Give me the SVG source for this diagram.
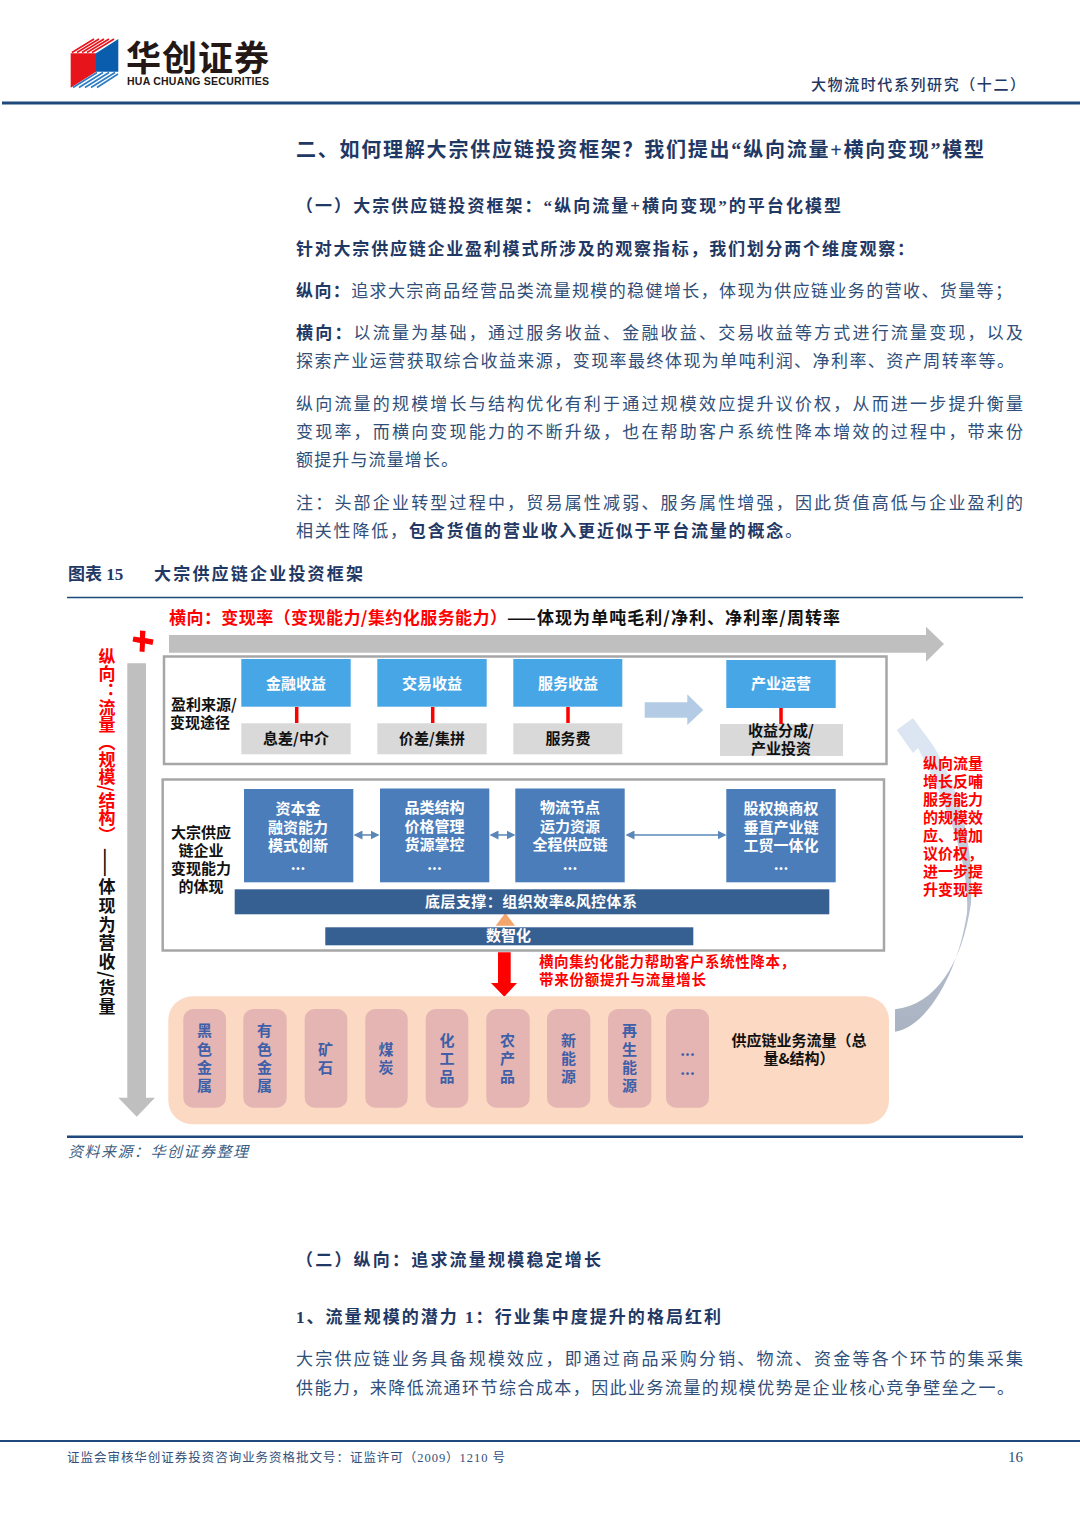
<svg xmlns="http://www.w3.org/2000/svg" width="1080" height="1527" viewBox="0 0 1080 1527">
<style>
text{font-family:"Liberation Serif","Noto Sans CJK SC",serif;fill:#2f4f7a}
.b{font-size:17px}
.h{font-weight:700;fill:#1f3864}
.s{font-family:"Noto Sans CJK SC","Liberation Sans",sans-serif;font-weight:700;font-size:15px;text-anchor:middle}
.w{fill:#fff}
.r{fill:#f00}
.k{fill:#111}
.p{fill:#3f5fa8;font-size:15px}
.lb{fill:#47a6e6}
.gr{fill:#d9d9d9}
.db{fill:#4b7dba}
.bar{fill:#376092}
.pill{fill:#e4b5b2}
.frame{fill:#fff;stroke:#a6a6a6;stroke-width:2.5}
.rl{stroke:#f00;stroke-width:3.5;fill:none}
.da{stroke:#5b87b8;stroke-width:1.5;fill:none;marker-start:url(#as);marker-end:url(#ae)}
.v{writing-mode:vertical-rl;font-family:"Noto Sans CJK SC","Liberation Sans",sans-serif;font-weight:700;font-size:17px}
.rule{stroke:#1f497d;fill:none}
</style>
<defs>
<marker id="ae" markerWidth="6" markerHeight="6" refX="5" refY="3" orient="auto"><path d="M0 0L6 3L0 6Z" fill="#5b87b8"/></marker>
<marker id="as" markerWidth="6" markerHeight="6" refX="1" refY="3" orient="auto"><path d="M6 0L0 3L6 6Z" fill="#5b87b8"/></marker>
<linearGradient id="cv" x1="0" y1="1" x2="0" y2="0"><stop offset="0" stop-color="#aab3c2"/><stop offset="0.55" stop-color="#bcc7d6"/><stop offset="0.8" stop-color="#dce6f2"/><stop offset="1" stop-color="#dce6f2"/></linearGradient>
</defs>
<rect width="1080" height="1527" fill="#fff"/>

<g id="header">
<polygon points="70.7,53.3 96,53.3 96,71.7 70.7,87.7" fill="#e8141c"/>
<polygon points="96,53.3 118.3,39 118.3,71.7 96,71.7" fill="#0a5cad"/>
<g stroke="#e8141c" stroke-width="1.6" fill="none">
<path d="M72 52.5L94 39M77 52.5L99 39M82 52.5L104 39M87 52.5L109 39M92 52.5L114 39"/>
</g>
<g stroke="#2a7cc4" stroke-width="1.6" fill="none">
<path d="M73 87.5L97 72.5M79 87.5L103 72.500M85 87.5L109 72.5M91 87.5L115 72.5M97 87.5L118 74"/>
</g>
<text x="126" y="71" font-size="35" font-weight="700" textLength="143" style="font-family:'Noto Sans CJK SC',sans-serif;fill:#231815">华创证券</text>
<text x="127" y="85" font-size="10.5" font-weight="700" textLength="142" style="font-family:'Liberation Sans',sans-serif;fill:#231815">HUA CHUANG SECURITIES</text>
<text x="811" y="90" font-size="15" textLength="214" style="font-weight:500;fill:#1f3864">大物流时代系列研究&#xFF08;十二&#xFF09;</text>
<path class="rule" d="M2 103H1080" stroke-width="3"/>
</g>

<g id="body-text">
<text x="296" y="157" font-size="20" class="h" textLength="688">二、如何理解大宗供应链投资框架&#xFF1F;我们提出“纵向流量+横向变现”模型</text>
<text x="296" y="212" class="b h" textLength="545">&#xFF08;一&#xFF09;大宗供应链投资框架&#xFF1A;“纵向流量+横向变现”的平台化模型</text>
<text x="296" y="255" class="b h" textLength="618">针对大宗供应链企业盈利模式所涉及的观察指标&#xFF0C;我们划分两个维度观察&#xFF1A;</text>
<text x="296" y="297" class="b" textLength="716"><tspan class="h">纵向&#xFF1A;</tspan>追求大宗商品经营品类流量规模的稳健增长&#xFF0C;体现为供应链业务的营收、货量等&#xFF1B;</text>
<text x="296" y="339" class="b" textLength="727"><tspan class="h">横向&#xFF1A;</tspan>以流量为基础&#xFF0C;通过服务收益、金融收益、交易收益等方式进行流量变现&#xFF0C;以及</text>
<text x="296" y="367" class="b" textLength="718">探索产业运营获取综合收益来源&#xFF0C;变现率最终体现为单吨利润、净利率、资产周转率等。</text>
<text x="296" y="410" class="b" textLength="727">纵向流量的规模增长与结构优化有利于通过规模效应提升议价权&#xFF0C;从而进一步提升衡量</text>
<text x="296" y="438" class="b" textLength="727">变现率&#xFF0C;而横向变现能力的不断升级&#xFF0C;也在帮助客户系统性降本增效的过程中&#xFF0C;带来份</text>
<text x="296" y="466" class="b" textLength="162">额提升与流量增长。</text>
<text x="296" y="509" class="b" textLength="727">注&#xFF1A;头部企业转型过程中&#xFF0C;贸易属性减弱、服务属性增强&#xFF0C;因此货值高低与企业盈利的</text>
<text x="296" y="537" class="b" textLength="506">相关性降低&#xFF0C;<tspan class="h">包含货值的营业收入更近似于平台流量的概念</tspan>。</text>
<text x="68" y="580" class="b h">图表 15</text>
<text x="154" y="580" class="b h" textLength="209">大宗供应链企业投资框架</text>
<path class="rule" d="M67 597.5H1023" stroke-width="1.5"/>
<path class="rule" d="M67 1136.7H1023" stroke-width="2.5"/>
<text x="68" y="1157" font-size="15" font-style="italic" textLength="180" style="fill:#3c5f86">资料来源&#xFF1A;华创证券整理</text>
<text x="296" y="1266" class="b h" textLength="305">&#xFF08;二&#xFF09;纵向&#xFF1A;追求流量规模稳定增长</text>
<text x="296" y="1323" class="b h" textLength="425">1、流量规模的潜力 1&#xFF1A;行业集中度提升的格局红利</text>
<text x="296" y="1365" class="b" textLength="727">大宗供应链业务具备规模效应&#xFF0C;即通过商品采购分销、物流、资金等各个环节的集采集</text>
<text x="296" y="1394" class="b" textLength="718">供能力&#xFF0C;来降低流通环节综合成本&#xFF0C;因此业务流量的规模优势是企业核心竞争壁垒之一。</text>
</g>

<g id="footer">
<path class="rule" d="M0 1441H1080" stroke-width="2"/>
<text x="67" y="1462" font-size="12.5" textLength="438" style="fill:#33507a">证监会审核华创证券投资咨询业务资格批文号&#xFF1A;证监许可&#xFF08;2009&#xFF09;1210 号</text>
<text x="1023" y="1462" font-size="15" text-anchor="end" style="fill:#33507a">16</text>
</g>

<g id="frames">
<rect class="frame" x="164" y="656.5" width="722.5" height="107.5"/>
<rect class="frame" x="162.7" y="779.5" width="721.3" height="171"/>
</g>

<g id="connectors">
<polygon id="arrow-horizontal" points="169,635 926,635 926,626.7 944,644 926,661.7 926,652.7 169,652.7" fill="#bfbfbf"/>
<polygon id="arrow-vertical" points="127.3,663.3 146,663.3 146,1097.7 155,1097.7 136.7,1116.7 118.3,1097.7 127.3,1097.7" fill="#bfbfbf"/>
<path id="plus" d="M140 630.500L145.500 631L145 638L153.500 639.500L152.500 645L145 643.500L144.500 652L139.500 651.500L140 643L132.500 641.500L133.500 636.500L140 637.500Z" fill="#f00"/>
<path class="rl" d="M296.700 707V723M432.700 707V723M568 707V723M781 708V724"/>
<polygon id="arrow-to-ops" points="644.700,702.300 687.300,702.300 687.300,694.300 703.300,710 687.300,725 687.300,717.700 644.700,717.700" fill="#b4cbe5"/>
<path class="da" d="M355 835H378"/>
<path class="da" d="M491 835H514"/>
<path class="da" d="M627 835H725"/>
<polygon id="arrow-digital" points="495.700,925.700 505.300,913 515,925.700" fill="#f4a56b"/>
<polygon id="arrow-red" points="498,952.300 510.700,952.300 510.700,983 517,983 504.300,996.700 491,983 498,983" fill="#f00"/>
<path id="arrow-feedback" d="M895 1031.700C925 1028 958 975 967 913C970 860 945 800 918 748L913 753L896.700 730L913 718L921.700 730C955 770 975 840 971 903C962 965 935 1005 895 1009.300Z" fill="url(#cv)"/>
</g>

<g id="diagram-titles">
<text x="169" y="624" class="s r" style="text-anchor:start;font-size:17px" textLength="338">横向&#xFF1A;变现率&#xFF08;变现能力/集约化服务能力&#xFF09;</text>
<text x="507" y="624" class="s k" style="text-anchor:start;font-size:17px" textLength="333">——体现为单吨毛利/净利、净利率/周转率</text>
<text x="107" y="648" class="v r" textLength="195">纵向&#xFF1A;流量&#xFF08;规模/结构&#xFF09;</text>
<text x="107" y="848" class="v k" textLength="167">——体现为营收/货量</text>
</g>

<g id="row1-label"><text class="s k" x="204" y="710">盈利来源/</text><text class="s k" x="200" y="728">变现途径</text></g>
<g id="n-finance"><rect class="lb" x="241.300" y="659" width="109.400" height="47.700"/><text class="s w" x="296" y="689">金融收益</text></g>
<g id="n-trade"><rect class="lb" x="377.300" y="659" width="109.400" height="47.700"/><text class="s w" x="432" y="689">交易收益</text></g>
<g id="n-service"><rect class="lb" x="513.300" y="659" width="109" height="47.700"/><text class="s w" x="568" y="689">服务收益</text></g>
<g id="n-ops"><rect class="lb" x="726.300" y="660" width="109.400" height="48"/><text class="s w" x="781" y="689">产业运营</text></g>
<g id="n-spread"><rect class="gr" x="241.300" y="723.300" width="109.400" height="31"/><text class="s k" x="296" y="744">息差/中介</text></g>
<g id="n-price"><rect class="gr" x="377.300" y="723.300" width="109.400" height="31"/><text class="s k" x="432" y="744">价差/集拼</text></g>
<g id="n-fee"><rect class="gr" x="513.300" y="723.300" width="109" height="31"/><text class="s k" x="568" y="744">服务费</text></g>
<g id="n-share"><rect class="gr" x="720" y="724" width="123" height="32"/><text class="s k" x="781" y="736">收益分成/</text><text class="s k" x="781" y="754">产业投资</text></g>

<g id="row2-label"><text class="s k" x="201" y="838">大宗供应</text><text class="s k" x="201" y="856">链企业</text><text class="s k" x="201" y="874">变现能力</text><text class="s k" x="201" y="892">的体现</text></g>
<g id="n-capital"><rect class="db" x="244" y="789" width="109.300" height="93.300"/><text class="s w" x="298" y="814">资本金</text><text class="s w" x="298" y="833">融资能力</text><text class="s w" x="298" y="851">模式创新</text><text class="s w" x="298" y="870">...</text></g>
<g id="n-category"><rect class="db" x="380" y="788.500" width="109.300" height="93.800"/><text class="s w" x="434.500" y="813">品类结构</text><text class="s w" x="434.500" y="832">价格管理</text><text class="s w" x="434.500" y="850">货源掌控</text><text class="s w" x="434.500" y="870">...</text></g>
<g id="n-logistics"><rect class="db" x="515.300" y="788.500" width="109.400" height="93.800"/><text class="s w" x="570" y="813">物流节点</text><text class="s w" x="570" y="832">运力资源</text><text class="s w" x="570" y="850">全程供应链</text><text class="s w" x="570" y="870">...</text></g>
<g id="n-equity"><rect class="db" x="726.300" y="789" width="109.400" height="93.300"/><text class="s w" x="781" y="814">股权换商权</text><text class="s w" x="781" y="833">垂直产业链</text><text class="s w" x="781" y="851">工贸一体化</text><text class="s w" x="781" y="870">...</text></g>
<g id="n-base"><rect class="bar" x="234.700" y="889.300" width="594.600" height="25"/><text class="s w" x="531" y="907" textLength="212">底层支撑&#xFF1A;组织效率&amp;风控体系</text></g>
<g id="n-digital"><rect class="bar" x="325.300" y="927.300" width="368" height="18"/><text class="s w" x="508.500" y="941">数智化</text></g>

<g id="note-horizontal"><text class="s r" x="539" y="967" style="text-anchor:start;font-size:14.500px" textLength="256">横向集约化能力帮助客户系统性降本&#xFF0C;</text><text class="s r" x="539" y="985" style="text-anchor:start;font-size:14.500px" textLength="167">带来份额提升与流量增长</text></g>
<g id="note-feedback">
<text class="s r" x="923" y="769" style="text-anchor:start">纵向流量</text>
<text class="s r" x="923" y="787" style="text-anchor:start">增长反哺</text>
<text class="s r" x="923" y="805" style="text-anchor:start">服务能力</text>
<text class="s r" x="923" y="823" style="text-anchor:start">的规模效</text>
<text class="s r" x="923" y="841" style="text-anchor:start">应、增加</text>
<text class="s r" x="923" y="859" style="text-anchor:start">议价权&#xFF0C;</text>
<text class="s r" x="923" y="877" style="text-anchor:start">进一步提</text>
<text class="s r" x="923" y="895" style="text-anchor:start">升变现率</text>
</g>

<g id="n-flow">
<rect x="168.300" y="996.300" width="720.700" height="128" rx="24" fill="#fbd9c3"/>
<text class="s k" x="799" y="1046">供应链业务流量&#xFF08;总</text><text class="s k" x="799" y="1064">量&amp;结构&#xFF09;</text>
</g>
<g id="n-ferrous"><rect class="pill" x="183.300" y="1009" width="42.700" height="98.700" rx="10"/><text class="s p" x="204.500" y="1036">黑</text><text class="s p" x="204.500" y="1055">色</text><text class="s p" x="204.500" y="1073">金</text><text class="s p" x="204.500" y="1091">属</text></g>
<g id="n-nonferrous"><rect class="pill" x="243.300" y="1009" width="43.400" height="98.700" rx="10"/><text class="s p" x="264.500" y="1036">有</text><text class="s p" x="264.500" y="1055">色</text><text class="s p" x="264.500" y="1073">金</text><text class="s p" x="264.500" y="1091">属</text></g>
<g id="n-ore"><rect class="pill" x="304.700" y="1009" width="42.600" height="98.700" rx="10"/><text class="s p" x="325.500" y="1055">矿</text><text class="s p" x="325.500" y="1073">石</text></g>
<g id="n-coal"><rect class="pill" x="365.300" y="1009" width="42.400" height="98.700" rx="10"/><text class="s p" x="386" y="1055">煤</text><text class="s p" x="386" y="1073">炭</text></g>
<g id="n-chem"><rect class="pill" x="425.700" y="1009" width="42.600" height="98.700" rx="10"/><text class="s p" x="447" y="1046">化</text><text class="s p" x="447" y="1064">工</text><text class="s p" x="447" y="1082">品</text></g>
<g id="n-agri"><rect class="pill" x="486.300" y="1009" width="43.400" height="98.700" rx="10"/><text class="s p" x="507.500" y="1046">农</text><text class="s p" x="507.500" y="1064">产</text><text class="s p" x="507.500" y="1082">品</text></g>
<g id="n-newenergy"><rect class="pill" x="547" y="1009" width="43.300" height="98.700" rx="10"/><text class="s p" x="568.500" y="1046">新</text><text class="s p" x="568.500" y="1064">能</text><text class="s p" x="568.500" y="1082">源</text></g>
<g id="n-renew"><rect class="pill" x="608" y="1009" width="43.300" height="98.700" rx="10"/><text class="s p" x="629.500" y="1036">再</text><text class="s p" x="629.500" y="1055">生</text><text class="s p" x="629.500" y="1073">能</text><text class="s p" x="629.500" y="1091">源</text></g>
<g id="n-more"><rect class="pill" x="666" y="1009" width="43" height="98.700" rx="10"/><text class="s p" x="687.500" y="1056">...</text><text class="s p" x="687.500" y="1075">...</text></g>
</svg>
